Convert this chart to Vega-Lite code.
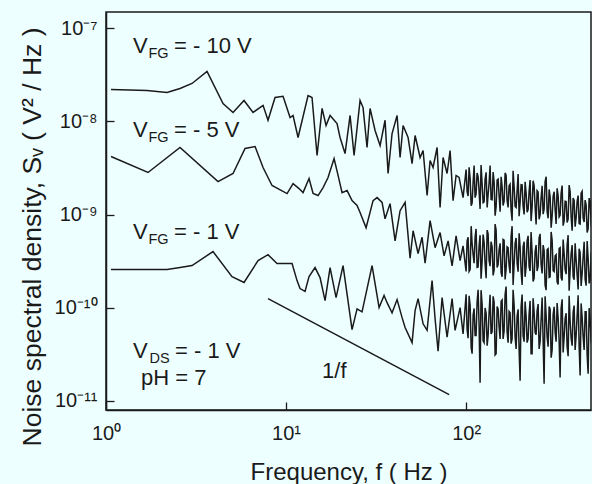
{
"$schema": "https://vega.github.io/schema/vega-lite/v6.json",
"width": 485, "height": 398,
"autosize": {"type": "none"},
"padding": {"left": 106, "top": 12, "right": 1, "bottom": 74},
"background": "#EEFFFF",
"config": {"view": {"stroke": "#1a1a1a", "strokeWidth": 1.5}, "font": "Liberation Sans"},
"encoding": {
 "x": {"field": "f", "type": "quantitative", "scale": {"type": "log", "domain": [1, 494]},
  "axis": {"values": [1, 10, 100], "labelExpr": "datum.value < 5 ? '10⁰' : datum.value < 50 ? '10¹' : '10²'",
   "tickSize": -8, "tickWidth": 1.3, "tickColor": "#1a1a1a", "domainColor": "#1a1a1a", "domainWidth": 1.5,
   "labelPadding": 21, "labelFontSize": 20, "labelColor": "#1a1a1a", "labelFlush": false, "labelOverlap": false, "grid": false,
   "title": "Frequency, f ( Hz )", "titleFontSize": 24, "titleFontWeight": "normal", "titleColor": "#1a1a1a",
   "titleBaseline": "alphabetic", "titleY": 69}},
 "y": {"field": "v", "type": "quantitative", "scale": {"type": "log", "domain": [7.94e-12, 1.5e-7]},
  "axis": {"values": [1e-11, 1e-10, 1e-9, 1e-8, 1e-7],
   "labelExpr": "datum.value < 5e-11 ? '10⁻¹¹' : datum.value < 5e-10 ? '10⁻¹⁰' : datum.value < 5e-9 ? '10⁻⁹' : datum.value < 5e-8 ? '10⁻⁸' : '10⁻⁷'",
   "tickSize": -8, "tickWidth": 1.3, "tickColor": "#1a1a1a", "domainColor": "#1a1a1a", "domainWidth": 1.5,
   "labelPadding": 17, "labelFontSize": 20, "labelColor": "#1a1a1a", "labelFlush": false, "labelOverlap": false, "grid": false,
   "title": "Noise spectral density, Sᵥ ( V² / Hz )", "titleFontSize": 26.5, "titleFontWeight": "normal", "titleColor": "#1a1a1a",
   "titleBaseline": "alphabetic", "titleX": -66, "titleY": 224.5}}
},
"layer": [
{"data": {"values": [
{"s":"a","f":1.066,"v":2.21e-8},{"s":"a","f":1.69,"v":2.15e-8},{"s":"a","f":2.183,"v":2.05e-8},{"s":"a","f":2.577,"v":2.26e-8},{"s":"a","f":3.005,"v":2.56e-8},{"s":"a","f":3.64,"v":3.45e-8},{"s":"a","f":4.467,"v":1.56e-8},{"s":"a","f":5.077,"v":1.25e-8},{"s":"a","f":5.843,"v":1.68e-8},{"s":"a","f":6.556,"v":1.25e-8},{"s":"a","f":7.452,"v":1.49e-8},{"s":"a","f":7.943,"v":1.03e-8},{"s":"a","f":8.687,"v":1.81e-8},{"s":"a","f":9.624,"v":1.86e-8},{"s":"a","f":10.53,"v":1.10e-8},{"s":"a","f":10.94,"v":1.16e-8},{"s":"a","f":11.66,"v":6.72e-9},{"s":"a","f":13.25,"v":1.90e-8},{"s":"a","f":13.94,"v":1.81e-8},{"s":"a","f":14.87,"v":4.31e-9},{"s":"a","f":15.85,"v":1.38e-8},{"s":"a","f":16.68,"v":9.04e-9},{"s":"a","f":17.56,"v":1.16e-8},{"s":"a","f":19.20,"v":9.50e-9},{"s":"a","f":19.95,"v":6.72e-9},{"s":"a","f":21.27,"v":4.52e-9},{"s":"a","f":22.68,"v":1.16e-8},{"s":"a","f":23.87,"v":4.31e-9},{"s":"a","f":25.77,"v":1.68e-8},{"s":"a","f":26.78,"v":1.41e-8},{"s":"a","f":28.18,"v":5.25e-9},{"s":"a","f":29.29,"v":1.38e-8},{"s":"a","f":31.22,"v":7.99e-9},{"s":"a","f":33.29,"v":5.51e-9},{"s":"a","f":35.48,"v":1.03e-8},{"s":"a","f":36.87,"v":2.76e-9},{"s":"a","f":38.80,"v":7.42e-9},{"s":"a","f":41.37,"v":1.16e-8},{"s":"a","f":42.99,"v":4.10e-9},{"s":"a","f":44.67,"v":9.04e-9},{"s":"a","f":47.62,"v":6.72e-9},{"s":"a","f":50.12,"v":3.53e-9},{"s":"a","f":52.09,"v":7.06e-9},{"s":"a","f":55.53,"v":4.10e-9},{"s":"a","f":57.70,"v":4.87e-9},{"s":"a","f":60.73,"v":1.60e-9},{"s":"a","f":63.10,"v":3.80e-9},{"s":"a","f":65.56,"v":3.20e-9},{"s":"a","f":69.01,"v":5.25e-9},{"s":"a","f":71.70,"v":1.19e-9},{"s":"a","f":74.50,"v":4.10e-9},{"s":"a","f":78.42,"v":2.76e-9},{"s":"a","f":81.49,"v":4.87e-9},{"s":"a","f":84.67,"v":1.41e-9},{"s":"a","f":87.99,"v":2.63e-9},{"s":"a","f":91.43,"v":2.50e-9},{"s":"a","f":96.21,"v":1.52e-9},
{"s":"a","f":100,"v":3.05e-9},{"s":"a","f":102.6,"v":1.58e-9},{"s":"a","f":105.3,"v":2.44e-9},{"s":"a","f":108.0,"v":1.33e-9},{"s":"a","f":110.8,"v":3.36e-9},{"s":"a","f":113.6,"v":1.66e-9},{"s":"a","f":116.6,"v":2.56e-9},{"s":"a","f":119.6,"v":1.15e-9},{"s":"a","f":122.7,"v":2.16e-9},{"s":"a","f":125.9,"v":1.37e-9},{"s":"a","f":129.2,"v":2.84e-9},{"s":"a","f":132.5,"v":1.63e-9},{"s":"a","f":135.9,"v":3.37e-9},{"s":"a","f":139.5,"v":1.44e-9},{"s":"a","f":143.1,"v":2.22e-9},{"s":"a","f":146.8,"v":1.21e-9},{"s":"a","f":150.6,"v":2.40e-9},{"s":"a","f":154.5,"v":1.07e-9},{"s":"a","f":158.5,"v":2.02e-9},{"s":"a","f":162.6,"v":1.38e-9},{"s":"a","f":166.8,"v":2.65e-9},{"s":"a","f":171.1,"v":1.19e-9},{"s":"a","f":175.5,"v":2.12e-9},{"s":"a","f":180.1,"v":8.6e-10},{"s":"a","f":184.8,"v":1.98e-9},{"s":"a","f":189.6,"v":1.19e-9},{"s":"a","f":194.5,"v":2.72e-9},{"s":"a","f":199.5,"v":1.35e-9},{"s":"a","f":204.7,"v":2.08e-9},{"s":"a","f":210.0,"v":1.0e-9},{"s":"a","f":215.4,"v":1.71e-9},{"s":"a","f":221.0,"v":1.13e-9},{"s":"a","f":226.7,"v":2.35e-9},{"s":"a","f":232.6,"v":1.20e-9},{"s":"a","f":238.6,"v":2.04e-9},{"s":"a","f":244.8,"v":7.8e-10},{"s":"a","f":251.2,"v":1.75e-9},{"s":"a","f":257.7,"v":1.0e-9},{"s":"a","f":264.4,"v":2.04e-9},{"s":"a","f":271.2,"v":1.14e-9},{"s":"a","f":278.3,"v":2.55e-9},{"s":"a","f":285.5,"v":9.1e-10},{"s":"a","f":292.9,"v":1.55e-9},{"s":"a","f":300.5,"v":9.6e-10},{"s":"a","f":308.3,"v":1.76e-9},{"s":"a","f":316.2,"v":7.9e-10},{"s":"a","f":324.4,"v":1.60e-9},{"s":"a","f":332.8,"v":9.8e-10},{"s":"a","f":341.5,"v":2.05e-9},{"s":"a","f":350.3,"v":8.5e-10},{"s":"a","f":359.4,"v":1.38e-9},{"s":"a","f":368.7,"v":8.9e-10},{"s":"a","f":378.3,"v":1.77e-9},{"s":"a","f":388.1,"v":6.7e-10},{"s":"a","f":398.1,"v":1.42e-9},{"s":"a","f":408.4,"v":9.2e-10},{"s":"a","f":419.0,"v":1.60e-9},{"s":"a","f":429.9,"v":7.9e-10},{"s":"a","f":441.0,"v":1.78e-9},{"s":"a","f":452.5,"v":8.3e-10},{"s":"a","f":464.2,"v":1.26e-9},{"s":"a","f":476.2,"v":7.0e-10},{"s":"a","f":488.6,"v":1.39e-9},{"s":"a","f":501.2,"v":6.5e-10},
{"s":"a","f":101.3,"v":1.76e-9},{"s":"a","f":103.9,"v":3.22e-9},{"s":"a","f":106.7,"v":1.24e-9},{"s":"a","f":109.4,"v":2.22e-9},{"s":"a","f":112.2,"v":1.52e-9},{"s":"a","f":115.1,"v":2.79e-9},{"s":"a","f":118.1,"v":1.76e-9},{"s":"a","f":121.1,"v":3.40e-9},{"s":"a","f":124.3,"v":1.34e-9},{"s":"a","f":127.5,"v":2.40e-9},{"s":"a","f":130.9,"v":1.19e-9},{"s":"a","f":134.2,"v":2.18e-9},{"s":"a","f":137.6,"v":1.45e-9},{"s":"a","f":141.3,"v":2.86e-9},{"s":"a","f":144.9,"v":9.7e-10},{"s":"a","f":148.7,"v":2.35e-9},{"s":"a","f":152.5,"v":1.60e-9},{"s":"a","f":156.5,"v":2.54e-9},{"s":"a","f":160.5,"v":1.25e-9},{"s":"a","f":164.7,"v":2.80e-9},{"s":"a","f":168.9,"v":1.42e-9},{"s":"a","f":173.3,"v":2.04e-9},{"s":"a","f":177.8,"v":1.11e-9},{"s":"a","f":182.4,"v":2.95e-9},{"s":"a","f":187.2,"v":1.22e-9},{"s":"a","f":192.0,"v":1.80e-9},{"s":"a","f":197.0,"v":9.6e-10},{"s":"a","f":202.1,"v":2.09e-9},{"s":"a","f":207.3,"v":1.23e-9},{"s":"a","f":212.7,"v":2.25e-9},{"s":"a","f":218.2,"v":1.06e-9},{"s":"a","f":223.8,"v":1.76e-9},{"s":"a","f":229.6,"v":8.5e-10},{"s":"a","f":235.6,"v":2.31e-9},{"s":"a","f":241.7,"v":1.23e-9},{"s":"a","f":247.9,"v":1.81e-9},{"s":"a","f":254.4,"v":8.9e-10},{"s":"a","f":261.0,"v":1.52e-9},{"s":"a","f":267.8,"v":1.01e-9},{"s":"a","f":274.7,"v":2.26e-9},{"s":"a","f":281.9,"v":1.07e-9},{"s":"a","f":289.2,"v":1.86e-9},{"s":"a","f":296.7,"v":7.2e-10},{"s":"a","f":304.4,"v":1.57e-9},{"s":"a","f":312.3,"v":1.12e-9},{"s":"a","f":320.3,"v":1.91e-9},{"s":"a","f":328.6,"v":9.4e-10},{"s":"a","f":337.1,"v":1.69e-9},{"s":"a","f":345.9,"v":7.6e-10},{"s":"a","f":354.8,"v":1.39e-9},{"s":"a","f":364.0,"v":8.2e-10},{"s":"a","f":373.5,"v":2.07e-9},{"s":"a","f":383.2,"v":9.4e-10},{"s":"a","f":393.1,"v":1.50e-9},{"s":"a","f":403.2,"v":7.4e-10},{"s":"a","f":413.7,"v":1.39e-9},{"s":"a","f":424.4,"v":8.0e-10},{"s":"a","f":435.4,"v":1.70e-9},{"s":"a","f":446.7,"v":9.2e-10},{"s":"a","f":458.3,"v":1.43e-9},{"s":"a","f":470.2,"v":6.4e-10},{"s":"a","f":482.4,"v":1.50e-9},{"s":"a","f":494.9,"v":8.0e-10},
{"s":"b","f":1.066,"v":4.20e-9},{"s":"b","f":1.711,"v":2.83e-9},{"s":"b","f":2.577,"v":5.25e-9},{"s":"b","f":4.19,"v":2.26e-9},{"s":"b","f":5.077,"v":2.76e-9},{"s":"b","f":5.92,"v":5.12e-9},{"s":"b","f":6.73,"v":5.38e-9},{"s":"b","f":7.452,"v":3.20e-9},{"s":"b","f":8.36,"v":2.05e-9},{"s":"b","f":10.13,"v":1.68e-9},{"s":"b","f":10.94,"v":2.15e-9},{"s":"b","f":11.81,"v":1.90e-9},{"s":"b","f":12.43,"v":1.72e-9},{"s":"b","f":13.42,"v":2.44e-9},{"s":"b","f":14.13,"v":1.68e-9},{"s":"b","f":15.06,"v":1.60e-9},{"s":"b","f":16.06,"v":1.95e-9},{"s":"b","f":17.11,"v":2.50e-9},{"s":"b","f":18.48,"v":4.0e-9},{"s":"b","f":19.45,"v":2.63e-9},{"s":"b","f":20.47,"v":1.72e-9},{"s":"b","f":21.83,"v":1.81e-9},{"s":"b","f":23.26,"v":1.41e-9},{"s":"b","f":24.80,"v":1.25e-9},{"s":"b","f":25.77,"v":1.05e-9},{"s":"b","f":27.83,"v":7.2e-10},{"s":"b","f":30.43,"v":1.41e-9},{"s":"b","f":32.03,"v":1.52e-9},{"s":"b","f":34.15,"v":1.35e-9},{"s":"b","f":35.48,"v":9.0e-10},{"s":"b","f":37.82,"v":1.31e-9},{"s":"b","f":40.33,"v":5.2e-10},{"s":"b","f":42.99,"v":1.10e-9},{"s":"b","f":45.84,"v":1.35e-9},{"s":"b","f":48.86,"v":3.4e-10},{"s":"b","f":50.78,"v":6.7e-10},{"s":"b","f":54.12,"v":3.8e-10},{"s":"b","f":56.96,"v":5.7e-10},{"s":"b","f":59.19,"v":3.0e-10},{"s":"b","f":63.10,"v":8.6e-10},{"s":"b","f":67.27,"v":4.4e-10},{"s":"b","f":71.70,"v":6.4e-10},{"s":"b","f":75.47,"v":3.6e-10},{"s":"b","f":79.43,"v":5.2e-10},{"s":"b","f":83.61,"v":2.8e-10},{"s":"b","f":87.99,"v":5.9e-10},{"s":"b","f":92.62,"v":3.2e-10},{"s":"b","f":96.21,"v":4.6e-10},
{"s":"b","f":100,"v":2.45e-10},{"s":"b","f":102.6,"v":5.7e-10},{"s":"b","f":105.3,"v":2.57e-10},{"s":"b","f":108.0,"v":4.9e-10},{"s":"b","f":110.8,"v":3.0e-10},{"s":"b","f":113.6,"v":7.0e-10},{"s":"b","f":116.6,"v":2.73e-10},{"s":"b","f":119.6,"v":6.0e-10},{"s":"b","f":122.7,"v":3.1e-10},{"s":"b","f":125.9,"v":5.0e-10},{"s":"b","f":129.2,"v":2.07e-10},{"s":"b","f":132.5,"v":6.2e-10},{"s":"b","f":135.9,"v":2.79e-10},{"s":"b","f":139.5,"v":4.5e-10},{"s":"b","f":143.1,"v":2.53e-10},{"s":"b","f":146.8,"v":6.8e-10},{"s":"b","f":150.6,"v":2.89e-10},{"s":"b","f":154.5,"v":4.9e-10},{"s":"b","f":158.5,"v":2.14e-10},{"s":"b","f":162.6,"v":5.3e-10},{"s":"b","f":166.8,"v":2.59e-10},{"s":"b","f":171.1,"v":4.4e-10},{"s":"b","f":175.5,"v":2.34e-10},{"s":"b","f":180.1,"v":7.5e-10},{"s":"b","f":184.8,"v":2.91e-10},{"s":"b","f":189.6,"v":5.6e-10},{"s":"b","f":194.5,"v":2.43e-10},{"s":"b","f":199.5,"v":4.5e-10},{"s":"b","f":204.7,"v":1.75e-10},{"s":"b","f":210.0,"v":5.1e-10},{"s":"b","f":215.4,"v":2.73e-10},{"s":"b","f":221.0,"v":5.9e-10},{"s":"b","f":226.7,"v":2.47e-10},{"s":"b","f":232.6,"v":3.9e-10},{"s":"b","f":238.6,"v":2.06e-10},{"s":"b","f":244.8,"v":4.7e-10},{"s":"b","f":251.2,"v":2.79e-10},{"s":"b","f":257.7,"v":6.2e-10},{"s":"b","f":264.4,"v":2.33e-10},{"s":"b","f":271.2,"v":4.1e-10},{"s":"b","f":278.3,"v":1.54e-10},{"s":"b","f":285.5,"v":4.3e-10},{"s":"b","f":292.9,"v":2.14e-10},{"s":"b","f":300.5,"v":5.3e-10},{"s":"b","f":308.3,"v":2.44e-10},{"s":"b","f":316.2,"v":3.7e-10},{"s":"b","f":324.4,"v":1.77e-10},{"s":"b","f":332.8,"v":4.4e-10},{"s":"b","f":341.5,"v":1.96e-10},{"s":"b","f":350.3,"v":3.8e-10},{"s":"b","f":359.4,"v":2.29e-10},{"s":"b","f":368.7,"v":6.0e-10},{"s":"b","f":378.3,"v":2.54e-10},{"s":"b","f":388.1,"v":4.7e-10},{"s":"b","f":398.1,"v":1.99e-10},{"s":"b","f":408.4,"v":3.3e-10},{"s":"b","f":419.0,"v":1.57e-10},{"s":"b","f":429.9,"v":3.9e-10},{"s":"b","f":441.0,"v":2.31e-10},{"s":"b","f":452.5,"v":5.1e-10},{"s":"b","f":464.2,"v":1.72e-10},{"s":"b","f":476.2,"v":3.4e-10},{"s":"b","f":488.6,"v":2.01e-10},{"s":"b","f":501.2,"v":4.2e-10},
{"s":"b","f":101.3,"v":5.2e-10},{"s":"b","f":103.9,"v":2.45e-10},{"s":"b","f":106.7,"v":7.5e-10},{"s":"b","f":109.4,"v":3.7e-10},{"s":"b","f":112.2,"v":5.7e-10},{"s":"b","f":115.1,"v":2.70e-10},{"s":"b","f":118.1,"v":4.6e-10},{"s":"b","f":121.1,"v":2.04e-10},{"s":"b","f":124.3,"v":6.1e-10},{"s":"b","f":127.5,"v":2.97e-10},{"s":"b","f":130.9,"v":6.8e-10},{"s":"b","f":134.2,"v":3.2e-10},{"s":"b","f":137.6,"v":5.1e-10},{"s":"b","f":141.3,"v":2.22e-10},{"s":"b","f":144.9,"v":7.9e-10},{"s":"b","f":148.7,"v":2.70e-10},{"s":"b","f":152.5,"v":4.2e-10},{"s":"b","f":156.5,"v":2.37e-10},{"s":"b","f":160.5,"v":5.4e-10},{"s":"b","f":164.7,"v":2.01e-10},{"s":"b","f":168.9,"v":4.5e-10},{"s":"b","f":173.3,"v":2.84e-10},{"s":"b","f":177.8,"v":5.8e-10},{"s":"b","f":182.4,"v":1.75e-10},{"s":"b","f":187.2,"v":4.9e-10},{"s":"b","f":192.0,"v":3.0e-10},{"s":"b","f":197.0,"v":6.3e-10},{"s":"b","f":202.1,"v":2.44e-10},{"s":"b","f":207.3,"v":4.5e-10},{"s":"b","f":212.7,"v":2.14e-10},{"s":"b","f":218.2,"v":5.2e-10},{"s":"b","f":223.8,"v":2.76e-10},{"s":"b","f":229.6,"v":6.5e-10},{"s":"b","f":235.6,"v":1.91e-10},{"s":"b","f":241.7,"v":4.0e-10},{"s":"b","f":247.9,"v":2.47e-10},{"s":"b","f":254.4,"v":5.6e-10},{"s":"b","f":261.0,"v":2.91e-10},{"s":"b","f":267.8,"v":4.7e-10},{"s":"b","f":274.7,"v":1.74e-10},{"s":"b","f":281.9,"v":4.2e-10},{"s":"b","f":289.2,"v":2.11e-10},{"s":"b","f":296.7,"v":6.5e-10},{"s":"b","f":304.4,"v":2.50e-10},{"s":"b","f":312.3,"v":3.6e-10},{"s":"b","f":320.3,"v":1.89e-10},{"s":"b","f":328.6,"v":4.3e-10},{"s":"b","f":337.1,"v":2.10e-10},{"s":"b","f":345.9,"v":5.4e-10},{"s":"b","f":354.8,"v":2.56e-10},{"s":"b","f":364.0,"v":4.7e-10},{"s":"b","f":373.5,"v":1.52e-10},{"s":"b","f":383.2,"v":3.8e-10},{"s":"b","f":393.1,"v":2.15e-10},{"s":"b","f":403.2,"v":4.9e-10},{"s":"b","f":413.7,"v":2.26e-10},{"s":"b","f":424.4,"v":4.3e-10},{"s":"b","f":435.4,"v":1.71e-10},{"s":"b","f":446.7,"v":3.5e-10},{"s":"b","f":458.3,"v":2.01e-10},{"s":"b","f":470.2,"v":5.2e-10},{"s":"b","f":482.4,"v":1.82e-10},{"s":"b","f":494.9,"v":3.8e-10},
{"s":"c","f":1.066,"v":2.56e-10},{"s":"c","f":2.183,"v":2.56e-10},{"s":"c","f":2.577,"v":2.69e-10},{"s":"c","f":3.005,"v":2.83e-10},{"s":"c","f":3.93,"v":4.0e-10},{"s":"c","f":5.01,"v":2.15e-10},{"s":"c","f":5.843,"v":1.86e-10},{"s":"c","f":6.99,"v":3.2e-10},{"s":"c","f":7.943,"v":3.7e-10},{"s":"c","f":8.91,"v":2.97e-10},{"s":"c","f":10.80,"v":2.97e-10},{"s":"c","f":11.51,"v":1.95e-10},{"s":"c","f":11.96,"v":1.60e-10},{"s":"c","f":12.75,"v":1.49e-10},{"s":"c","f":13.42,"v":2.15e-10},{"s":"c","f":14.49,"v":2.69e-10},{"s":"c","f":15.45,"v":2.10e-10},{"s":"c","f":16.47,"v":1.19e-10},{"s":"c","f":17.56,"v":2.69e-10},{"s":"c","f":18.96,"v":1.28e-10},{"s":"c","f":20.73,"v":2.83e-10},{"s":"c","f":23.26,"v":5.8e-11},{"s":"c","f":24.80,"v":9.7e-11},{"s":"c","f":26.43,"v":9.0e-11},{"s":"c","f":30.04,"v":2.83e-10},{"s":"c","f":31.22,"v":1.81e-10},{"s":"c","f":32.87,"v":1.0e-10},{"s":"c","f":35.03,"v":1.35e-10},{"s":"c","f":36.40,"v":1.13e-10},{"s":"c","f":38.80,"v":8.8e-11},{"s":"c","f":41.37,"v":1.22e-10},{"s":"c","f":44.10,"v":7.8e-11},{"s":"c","f":45.84,"v":6.1e-11},{"s":"c","f":50.12,"v":4.2e-11},{"s":"c","f":52.09,"v":9.3e-11},{"s":"c","f":54.12,"v":1.25e-10},{"s":"c","f":57.70,"v":6.7e-11},{"s":"c","f":60.73,"v":5.7e-11},{"s":"c","f":64.72,"v":1.95e-10},{"s":"c","f":67.27,"v":7.6e-11},{"s":"c","f":69.89,"v":3.4e-11},{"s":"c","f":73.56,"v":1.28e-10},{"s":"c","f":78.42,"v":4.8e-11},{"s":"c","f":83.61,"v":1.25e-10},{"s":"c","f":86.86,"v":5.7e-11},{"s":"c","f":92.62,"v":1.0e-10},{"s":"c","f":96.21,"v":5.2e-11},
{"s":"c","f":100,"v":1.39e-10},{"s":"c","f":102.6,"v":4.7e-11},{"s":"c","f":105.3,"v":1.06e-10},{"s":"c","f":108.0,"v":3.2e-11},{"s":"c","f":110.8,"v":9.8e-11},{"s":"c","f":113.6,"v":5.0e-11},{"s":"c","f":116.6,"v":1.55e-10},{"s":"c","f":119.6,"v":1.56e-11},{"s":"c","f":122.7,"v":1.10e-10},{"s":"c","f":125.9,"v":4.2e-11},{"s":"c","f":129.2,"v":8.7e-11},{"s":"c","f":132.5,"v":5.0e-11},{"s":"c","f":135.9,"v":1.37e-10},{"s":"c","f":139.5,"v":5.5e-11},{"s":"c","f":143.1,"v":1.15e-10},{"s":"c","f":146.8,"v":3.2e-11},{"s":"c","f":150.6,"v":9.7e-11},{"s":"c","f":154.5,"v":4.6e-11},{"s":"c","f":158.5,"v":1.21e-10},{"s":"c","f":162.6,"v":5.6e-11},{"s":"c","f":166.8,"v":1.68e-10},{"s":"c","f":171.1,"v":4.2e-11},{"s":"c","f":175.5,"v":8.8e-11},{"s":"c","f":180.1,"v":4.6e-11},{"s":"c","f":184.8,"v":1.07e-10},{"s":"c","f":189.6,"v":3.6e-11},{"s":"c","f":194.5,"v":9.6e-11},{"s":"c","f":199.5,"v":1.64e-11},{"s":"c","f":204.7,"v":1.38e-10},{"s":"c","f":210.0,"v":4.3e-11},{"s":"c","f":215.4,"v":8.2e-11},{"s":"c","f":221.0,"v":4.6e-11},{"s":"c","f":226.7,"v":1.18e-10},{"s":"c","f":232.6,"v":3.2e-11},{"s":"c","f":238.6,"v":9.0e-11},{"s":"c","f":244.8,"v":5.1e-11},{"s":"c","f":251.2,"v":1.09e-10},{"s":"c","f":257.7,"v":4.3e-11},{"s":"c","f":264.4,"v":1.28e-10},{"s":"c","f":271.2,"v":1.52e-11},{"s":"c","f":278.3,"v":8.2e-11},{"s":"c","f":285.5,"v":3.8e-11},{"s":"c","f":292.9,"v":9.6e-11},{"s":"c","f":300.5,"v":3.5e-11},{"s":"c","f":308.3,"v":1.02e-10},{"s":"c","f":316.2,"v":4.3e-11},{"s":"c","f":324.4,"v":7.8e-11},{"s":"c","f":332.8,"v":1.77e-11},{"s":"c","f":341.5,"v":1.23e-10},{"s":"c","f":350.3,"v":4.8e-11},{"s":"c","f":359.4,"v":8.7e-11},{"s":"c","f":368.7,"v":3.0e-11},{"s":"c","f":378.3,"v":7.1e-11},{"s":"c","f":388.1,"v":3.9e-11},{"s":"c","f":398.1,"v":1.05e-10},{"s":"c","f":408.4,"v":5.0e-11},{"s":"c","f":419.0,"v":1.36e-10},{"s":"c","f":429.9,"v":1.86e-11},{"s":"c","f":441.0,"v":7.9e-11},{"s":"c","f":452.5,"v":3.5e-11},{"s":"c","f":464.2,"v":9.0e-11},{"s":"c","f":476.2,"v":1.95e-11},{"s":"c","f":488.6,"v":7.3e-11},{"s":"c","f":501.2,"v":4.4e-11},
{"s":"c","f":101.3,"v":5.8e-11},{"s":"c","f":103.9,"v":1.34e-10},{"s":"c","f":106.7,"v":3.7e-11},{"s":"c","f":109.4,"v":8.3e-11},{"s":"c","f":112.2,"v":5.0e-11},{"s":"c","f":115.1,"v":1.15e-10},{"s":"c","f":118.1,"v":6.3e-11},{"s":"c","f":121.1,"v":1.54e-10},{"s":"c","f":124.3,"v":4.4e-11},{"s":"c","f":127.5,"v":9.9e-11},{"s":"c","f":130.9,"v":3.9e-11},{"s":"c","f":134.2,"v":8.9e-11},{"s":"c","f":137.6,"v":5.2e-11},{"s":"c","f":141.3,"v":1.32e-10},{"s":"c","f":144.9,"v":3.1e-11},{"s":"c","f":148.7,"v":1.03e-10},{"s":"c","f":152.5,"v":6.2e-11},{"s":"c","f":156.5,"v":1.17e-10},{"s":"c","f":160.5,"v":4.6e-11},{"s":"c","f":164.7,"v":1.38e-10},{"s":"c","f":168.9,"v":5.5e-11},{"s":"c","f":173.3,"v":9.1e-11},{"s":"c","f":177.8,"v":4.1e-11},{"s":"c","f":182.4,"v":1.55e-10},{"s":"c","f":187.2,"v":4.8e-11},{"s":"c","f":192.0,"v":8.1e-11},{"s":"c","f":197.0,"v":3.5e-11},{"s":"c","f":202.1,"v":1.02e-10},{"s":"c","f":207.3,"v":5.0e-11},{"s":"c","f":212.7,"v":1.16e-10},{"s":"c","f":218.2,"v":4.2e-11},{"s":"c","f":223.8,"v":8.5e-11},{"s":"c","f":229.6,"v":3.2e-11},{"s":"c","f":235.6,"v":1.26e-10},{"s":"c","f":241.7,"v":5.4e-11},{"s":"c","f":247.9,"v":9.2e-11},{"s":"c","f":254.4,"v":3.6e-11},{"s":"c","f":261.0,"v":7.5e-11},{"s":"c","f":267.8,"v":4.4e-11},{"s":"c","f":274.7,"v":1.32e-10},{"s":"c","f":281.9,"v":4.8e-11},{"s":"c","f":289.2,"v":1.03e-10},{"s":"c","f":296.7,"v":2.9e-11},{"s":"c","f":304.4,"v":8.4e-11},{"s":"c","f":312.3,"v":5.4e-11},{"s":"c","f":320.3,"v":1.12e-10},{"s":"c","f":328.6,"v":4.4e-11},{"s":"c","f":337.1,"v":9.8e-11},{"s":"c","f":345.9,"v":3.3e-11},{"s":"c","f":354.8,"v":7.6e-11},{"s":"c","f":364.0,"v":3.8e-11},{"s":"c","f":373.5,"v":1.34e-10},{"s":"c","f":383.2,"v":4.7e-11},{"s":"c","f":393.1,"v":8.9e-11},{"s":"c","f":403.2,"v":3.5e-11},{"s":"c","f":413.7,"v":8.2e-11},{"s":"c","f":424.4,"v":3.9e-11},{"s":"c","f":435.4,"v":1.11e-10},{"s":"c","f":446.7,"v":4.9e-11},{"s":"c","f":458.3,"v":9.0e-11},{"s":"c","f":470.2,"v":3.1e-11},{"s":"c","f":482.4,"v":9.9e-11},{"s":"c","f":494.9,"v":4.3e-11},
{"s":"r","f":7.94,"v":1.25e-10},{"s":"r","f":80.5,"v":1.16e-11}
]},
 "mark": {"type": "line", "color": "#1a1a1a", "strokeWidth": 1.5, "clip": true},
 "encoding": {"detail": {"field": "s"}}},
{"data": {"values": [
{"f":1.413,"v":5.38e-8,"t":"V"},{"f":2.386,"v":5.38e-8,"t":"= - 10 V"},
{"f":1.413,"v":6.89e-9,"t":"V"},{"f":2.386,"v":6.89e-9,"t":"= - 5 V"},
{"f":1.413,"v":5.51e-10,"t":"V"},{"f":2.386,"v":5.51e-10,"t":"= - 1 V"},
{"f":1.413,"v":2.90e-11,"t":"V"},{"f":2.417,"v":2.90e-11,"t":"= - 1 V"},
{"f":1.565,"v":1.49e-11,"t":"pH = 7"},
{"f":15.85,"v":1.77e-11,"t":"1/f"}
]},
 "mark": {"type": "text", "align": "left", "baseline": "alphabetic", "fontSize": 22, "color": "#1a1a1a", "font": "Liberation Sans"},
 "encoding": {"text": {"field": "t"}}},
{"data": {"values": [
{"f":1.722,"v":5.38e-8,"t":"FG"},
{"f":1.722,"v":6.89e-9,"t":"FG"},
{"f":1.722,"v":5.51e-10,"t":"FG"},
{"f":1.745,"v":2.90e-11,"t":"DS"}
]},
 "mark": {"type": "text", "align": "left", "baseline": "alphabetic", "fontSize": 14.5, "dy": 5, "color": "#1a1a1a", "font": "Liberation Sans"},
 "encoding": {"text": {"field": "t"}}}
]
}
